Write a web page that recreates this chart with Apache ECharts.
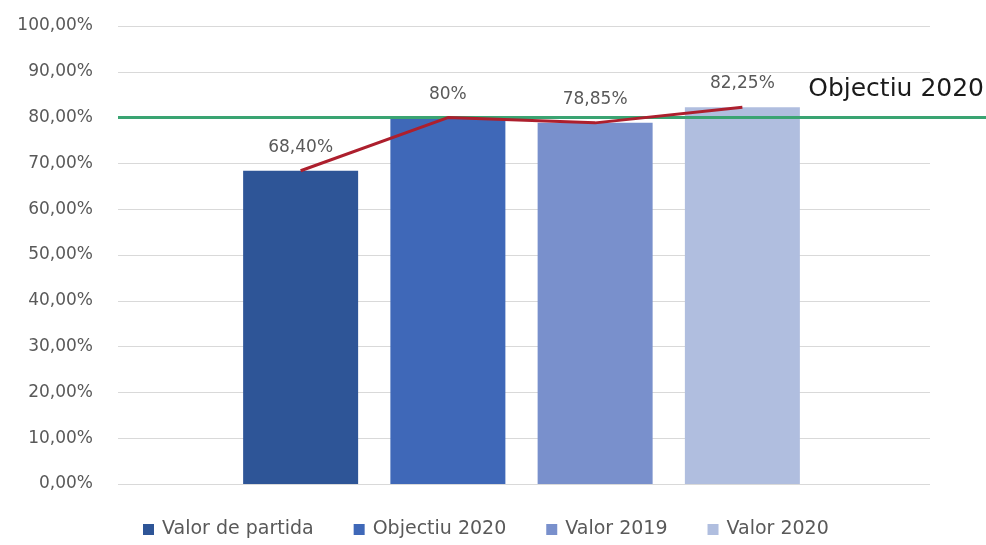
<!DOCTYPE html>
<html>
<head>
<meta charset="utf-8">
<script src="https://cdn.jsdelivr.net/npm/echarts@6/dist/echarts.min.js"></script>
<style>
  html, body { margin: 0; padding: 0; background: #fff; }
  #chart { width: 986px; height: 545px; }
</style>
</head>
<body>
<div id="chart"></div>
<script>
const seriesNames = ['Valor de partida', 'Objectiu 2020', 'Valor 2019', 'Valor 2020']
const values = [68.4, 80, 78.85, 82.25]
const valueLabels = ['68,40%', '80%', '78,85%', '82,25%']
const barColors = ['#2E5597', '#3F68B8', '#7990CC', '#B0BEDF']
const goalValue = 80
const goalLabel = 'Objectiu 2020'
const yTicks = [0, 10, 20, 30, 40, 50, 60, 70, 80, 90, 100]

const font = 'DejaVu Sans'
const chart = echarts.init(document.getElementById('chart'))

const barSeries = seriesNames.map((name, i) => ({
  name: name,
  type: 'bar',
  xAxisIndex: 1,
  yAxisIndex: 1,
  barWidth: 115,
  barGap: '-100%',
  itemStyle: { color: barColors[i] },
  label: {
    show: true,
    position: 'top',
    distance: 15,
    color: '#595959',
    fontSize: 17,
    fontFamily: font,
    formatter: () => valueLabels[i]
  },
  data: values.map((v, j) => (j === i ? v : '-'))
}))

chart.setOption({
  animation: false,
  grid: [
    { left: 118, right: 56, top: 26, bottom: 61 },
    { left: 227, right: 170, top: 26, bottom: 61 },
    { left: 118, right: 0, top: 26, bottom: 61 }
  ],
  legend: {
    data: seriesNames,
    left: 138,
    bottom: 1,
    icon: 'rect',
    itemWidth: 11,
    itemHeight: 11,
    itemGap: 40,
    textStyle: { color: '#595959', fontSize: 19, fontFamily: font, padding: [0, 0, 0, 3] }
  },
  xAxis: [
    { type: 'category', gridIndex: 0, data: [''], axisLine: { show: false }, axisTick: { show: false }, axisLabel: { show: false } },
    { type: 'category', gridIndex: 1, data: seriesNames, show: false },
    { type: 'category', gridIndex: 2, data: [''], show: false }
  ],
  yAxis: [
    {
      type: 'value',
      gridIndex: 0,
      min: yTicks[0],
      max: yTicks[yTicks.length - 1],
      interval: 10,
      axisLine: { show: false },
      axisTick: { show: false },
      splitLine: { lineStyle: { color: '#D9D9D9', width: 1 } },
      axisLabel: {
        margin: 25,
        color: '#595959',
        fontSize: 17,
        fontFamily: font,
        formatter: v => v.toFixed(2).replace('.', ',') + '%'
      }
    },
    { type: 'value', gridIndex: 1, min: 0, max: 100, show: false },
    { type: 'value', gridIndex: 2, min: 0, max: 100, show: false }
  ],
  series: [
    ...barSeries,
    {
      name: 'line',
      type: 'line',
      xAxisIndex: 1,
      yAxisIndex: 1,
      symbol: 'none',
      lineStyle: { color: '#AD1F2D', width: 3 },
      data: values,
      z: 5
    },
    {
      name: 'goal',
      type: 'line',
      xAxisIndex: 2,
      yAxisIndex: 2,
      data: [],
      markLine: {
        silent: true,
        symbol: 'none',
        lineStyle: { color: '#3AA472', width: 3, type: 'solid' },
        label: {
          show: true,
          position: 'insideEndTop',
          formatter: goalLabel,
          color: '#1A1A1A',
          fontSize: 25,
          fontFamily: font,
          distance: [2, 16]
        },
        data: [{ yAxis: goalValue }]
      },
      z: 4
    }
  ]
})
</script>
</body>
</html>
